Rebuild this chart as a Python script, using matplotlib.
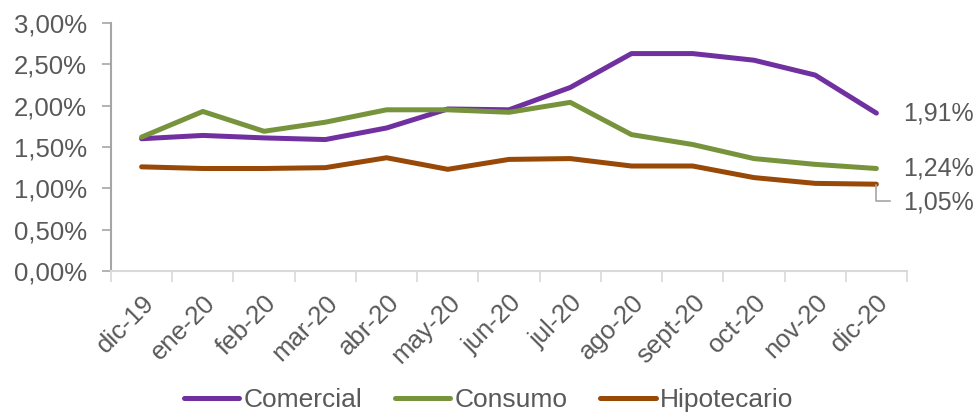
import matplotlib
matplotlib.use('Agg')
import matplotlib.pyplot as plt
from matplotlib.ticker import FuncFormatter, FixedLocator
import numpy as np

plt.rcParams['font.family'] = ['Liberation Sans', 'DejaVu Sans']

meses = ['dic-19', 'ene-20', 'feb-20', 'mar-20', 'abr-20', 'may-20', 'jun-20',
         'jul-20', 'ago-20', 'sept-20', 'oct-20', 'nov-20', 'dic-20']
comercial = [1.60, 1.64, 1.61, 1.59, 1.73, 1.96, 1.95, 2.22, 2.63, 2.63, 2.55, 2.37, 1.91]
consumo = [1.62, 1.93, 1.69, 1.80, 1.95, 1.95, 1.92, 2.04, 1.65, 1.53, 1.36, 1.29, 1.24]
hipotecario = [1.26, 1.24, 1.24, 1.25, 1.37, 1.23, 1.35, 1.36, 1.27, 1.27, 1.13, 1.06, 1.05]

txt = '#595959'
fs = 18.5

fig = plt.figure(figsize=(9.77, 4.12), dpi=100)
ax = fig.add_axes([111/977, 141/412, 796/977, 248/412])

x = np.arange(len(meses))
series = [(comercial, '#7030A0', 'Comercial'),
          (consumo, '#77933C', 'Consumo'),
          (hipotecario, '#984807', 'Hipotecario')]
for vals, col, lab in series:
    ax.plot(x, vals, color=col, lw=3.6, solid_capstyle='round', label=lab)

ax.set_xlim(-0.5, len(meses) - 0.5)
ax.set_ylim(0, 3.0)
ax.set_yticks(np.arange(0, 3.01, 0.5))
ax.yaxis.set_major_formatter(FuncFormatter(lambda v, p: ('%.2f%%' % v).replace('.', ',')))

ax.set_xticks(x)
ax.set_xticklabels(meses, rotation=45, ha='right', rotation_mode='anchor')
ax.xaxis.set_minor_locator(FixedLocator(np.arange(-0.5, len(meses), 1.0)))
ax.tick_params(axis='x', which='major', length=0, pad=14, labelsize=fs, labelcolor=txt)
ax.tick_params(axis='x', which='minor', length=8, width=1.2, color='#D9D9D9', direction='out')
ax.tick_params(axis='y', length=6.5, width=1.2, color='#A6A6A6', pad=11, labelsize=fs, labelcolor=txt)

for s in ['top', 'right']:
    ax.spines[s].set_visible(False)
ax.spines['left'].set_color('#A6A6A6')
ax.spines['left'].set_linewidth(1.5)
ax.spines['bottom'].set_color('#D9D9D9')
ax.spines['bottom'].set_linewidth(1.5)
ax.spines['left'].set_zorder(0)

# etiquetas del ultimo dato
last = len(meses) - 1
ax.annotate(('%.2f%%' % comercial[-1]).replace('.', ','), (last, comercial[-1]),
            xytext=(19, 0), textcoords='offset points', va='center', fontsize=18, color=txt)
ax.annotate(('%.2f%%' % consumo[-1]).replace('.', ','), (last, consumo[-1]),
            xytext=(19, 0), textcoords='offset points', va='center', fontsize=18, color=txt)
ax.annotate(('%.2f%%' % hipotecario[-1]).replace('.', ','), (last, hipotecario[-1]),
            xytext=(19, -13), textcoords='offset points', va='center', fontsize=18, color=txt)
ax.plot([last, last, last + 0.22], [hipotecario[-1] - 0.01, hipotecario[-1] - 0.2, hipotecario[-1] - 0.2],
        color='#A6A6A6', lw=1.2, clip_on=False)

fig.legend(loc='center', bbox_to_anchor=(0.5, 12/412), ncol=3, frameon=False,
           fontsize=19, labelcolor=txt, handlelength=2.1, handletextpad=0.15,
           columnspacing=1.25, borderaxespad=0, borderpad=0)

fig.savefig('out.png', dpi=100)
